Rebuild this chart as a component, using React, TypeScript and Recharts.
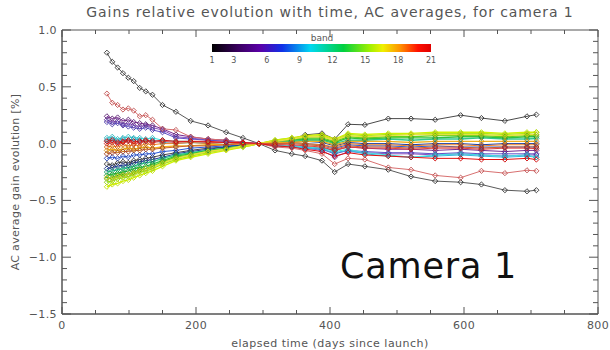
import React from 'react';
import { LineChart, Line, XAxis, YAxis, ReferenceArea } from 'recharts';

const days = [67, 75, 83, 91, 99, 107, 116, 125, 135, 150, 170, 192, 218, 245, 270, 294, 318, 343, 363, 388, 407, 427, 452, 487, 521, 557, 595, 626, 661, 694, 708];

const band1 = [0.80, 0.72, 0.67, 0.62, 0.58, 0.55, 0.49, 0.46, 0.43, 0.34, 0.28, 0.20, 0.16, 0.10, 0.05, 0.0, -0.06, -0.09, -0.11, -0.15, -0.25, -0.18, -0.20, -0.23, -0.29, -0.33, -0.34, -0.36, -0.41, -0.42, -0.41];
const band2 = [-0.18, -0.19, -0.17, -0.16, -0.17, -0.15, -0.14, -0.13, -0.12, -0.10, -0.08, -0.06, -0.04, -0.03, -0.01, 0.0, 0.02, 0.04, 0.077, 0.09, 0.04, 0.17, 0.165, 0.22, 0.22, 0.21, 0.25, 0.225, 0.20, 0.24, 0.255];
const band3 = [0.24, 0.22, 0.23, 0.20, 0.21, 0.19, 0.18, 0.17, 0.16, 0.13, 0.08, 0.06, 0.04, 0.03, 0.01, 0.0, -0.01, -0.02, -0.03, -0.04, -0.06, -0.03, -0.04, -0.05, -0.05, -0.06, -0.05, -0.06, -0.07, -0.06, -0.06];
const band4 = [0.21, 0.19, 0.20, 0.17, 0.18, 0.16, 0.15, 0.16, 0.14, 0.12, 0.06, 0.05, 0.03, 0.02, 0.01, 0.0, -0.02, -0.03, -0.04, -0.06, -0.12, -0.07, -0.08, -0.09, -0.09, -0.10, -0.09, -0.10, -0.11, -0.10, -0.10];
const band5 = [0.19, 0.17, 0.18, 0.16, 0.15, 0.14, 0.13, 0.14, 0.12, 0.10, 0.05, 0.04, 0.03, 0.02, 0.01, 0.0, -0.01, -0.02, -0.03, -0.05, -0.09, -0.06, -0.07, -0.08, -0.08, -0.09, -0.08, -0.09, -0.09, -0.09, -0.09];
const band6 = [-0.13, -0.12, -0.13, -0.11, -0.12, -0.10, -0.10, -0.09, -0.09, -0.07, -0.06, -0.04, -0.03, -0.02, -0.01, 0.0, 0.0, 0.01, 0.0, -0.01, -0.04, -0.01, -0.02, -0.02, -0.03, -0.02, -0.03, -0.03, -0.03, -0.03, -0.03];
const band7 = [-0.22, -0.21, -0.20, -0.19, -0.19, -0.17, -0.16, -0.15, -0.14, -0.12, -0.09, -0.07, -0.05, -0.03, -0.01, 0.0, 0.01, 0.02, 0.02, 0.01, -0.02, 0.01, 0.0, 0.0, -0.01, 0.0, 0.0, -0.01, 0.0, 0.0, 0.0];
const band8 = [0.03, 0.04, 0.02, 0.04, 0.03, 0.04, 0.03, 0.02, 0.03, 0.01, 0.0, 0.01, 0.0, 0.01, 0.0, 0.0, -0.02, -0.03, -0.04, -0.05, -0.08, -0.06, -0.09, -0.11, -0.12, -0.11, -0.10, -0.11, -0.12, -0.11, -0.12];
const band9 = [0.05, 0.06, 0.04, 0.05, 0.06, 0.05, 0.05, 0.04, 0.05, 0.03, 0.02, 0.02, 0.01, 0.01, 0.0, 0.0, -0.01, -0.02, -0.03, -0.04, -0.07, -0.05, -0.08, -0.10, -0.12, -0.10, -0.09, -0.10, -0.11, -0.10, -0.12];
const band10 = [-0.25, -0.24, -0.23, -0.22, -0.21, -0.20, -0.18, -0.17, -0.16, -0.13, -0.10, -0.08, -0.06, -0.04, -0.02, 0.0, 0.01, 0.02, 0.03, 0.03, 0.0, 0.03, 0.03, 0.04, 0.03, 0.04, 0.04, 0.05, 0.04, 0.04, 0.045];
const band11 = [-0.28, -0.27, -0.26, -0.25, -0.24, -0.22, -0.21, -0.20, -0.18, -0.15, -0.11, -0.09, -0.06, -0.04, -0.02, 0.0, 0.02, 0.03, 0.04, 0.04, 0.01, 0.05, 0.04, 0.05, 0.05, 0.05, 0.06, 0.06, 0.05, 0.06, 0.06];
const band12 = [-0.31, -0.30, -0.28, -0.27, -0.27, -0.25, -0.23, -0.22, -0.20, -0.16, -0.12, -0.10, -0.07, -0.05, -0.02, 0.0, 0.02, 0.04, 0.05, 0.05, 0.02, 0.06, 0.05, 0.06, 0.06, 0.07, 0.07, 0.07, 0.06, 0.07, 0.075];
const band13 = [-0.34, -0.33, -0.31, -0.30, -0.29, -0.27, -0.25, -0.24, -0.22, -0.18, -0.14, -0.11, -0.08, -0.05, -0.03, 0.0, 0.03, 0.05, 0.06, 0.07, 0.03, 0.08, 0.07, 0.08, 0.08, 0.09, 0.09, 0.09, 0.08, 0.09, 0.10];
const band14 = [-0.38, -0.36, -0.35, -0.33, -0.32, -0.30, -0.28, -0.26, -0.24, -0.20, -0.15, -0.12, -0.09, -0.06, -0.03, 0.0, 0.03, 0.05, 0.07, 0.08, 0.04, 0.09, 0.08, 0.09, 0.09, 0.10, 0.10, 0.10, 0.09, 0.10, 0.10];
const band15 = [-0.30, -0.31, -0.29, -0.28, -0.27, -0.26, -0.24, -0.22, -0.21, -0.17, -0.13, -0.10, -0.07, -0.05, -0.02, 0.0, 0.02, 0.04, 0.06, 0.06, 0.03, 0.07, 0.06, 0.07, 0.08, 0.08, 0.08, 0.08, 0.07, 0.08, 0.08];
const band16 = [-0.06, -0.05, -0.06, -0.05, -0.04, -0.05, -0.04, -0.03, -0.04, -0.03, -0.02, -0.02, -0.01, -0.01, 0.0, 0.0, 0.01, 0.01, 0.02, 0.02, -0.01, 0.02, 0.02, 0.02, 0.01, 0.02, 0.02, 0.02, 0.02, 0.02, 0.02];
const band17 = [-0.03, -0.02, -0.03, -0.01, -0.02, -0.01, -0.02, 0.0, -0.01, 0.0, 0.0, 0.01, 0.0, 0.01, 0.0, 0.0, 0.0, 0.01, 0.0, -0.01, -0.03, 0.0, -0.01, -0.01, -0.02, -0.01, -0.01, -0.02, -0.01, -0.01, -0.01];
const band18 = [-0.09, -0.08, -0.08, -0.07, -0.07, -0.06, -0.06, -0.05, -0.05, -0.04, -0.03, -0.02, -0.02, -0.01, 0.0, 0.0, 0.0, 0.0, -0.01, -0.02, -0.05, -0.02, -0.03, -0.03, -0.04, -0.03, -0.03, -0.04, -0.03, -0.03, -0.03];
const band19 = [0.0, 0.01, 0.0, 0.01, 0.02, 0.0, 0.01, 0.02, 0.01, 0.02, 0.01, 0.02, 0.01, 0.01, 0.0, 0.0, -0.01, -0.01, -0.02, -0.03, -0.06, -0.03, -0.04, -0.04, -0.05, -0.04, -0.04, -0.05, -0.04, -0.04, -0.045];
const band20 = [0.44, 0.36, 0.34, 0.30, 0.31, 0.29, 0.24, 0.25, 0.21, 0.13, 0.12, 0.06, 0.04, 0.03, 0.01, 0.0, -0.03, -0.04, -0.06, -0.09, -0.18, -0.13, -0.14, -0.21, -0.23, -0.28, -0.30, -0.24, -0.26, -0.235, -0.24];
const band21 = [0.02, 0.03, 0.01, 0.02, 0.03, 0.02, 0.02, 0.03, 0.02, 0.03, 0.02, 0.02, 0.02, 0.01, 0.01, 0.0, -0.02, -0.03, -0.05, -0.07, -0.11, -0.08, -0.10, -0.11, -0.12, -0.13, -0.13, -0.14, -0.14, -0.13, -0.14];

const bands = [band1, band2, band3, band4, band5, band6, band7, band8, band9, band10, band11, band12, band13, band14, band15, band16, band17, band18, band19, band20, band21];
const bandColors = ['#5a5a5a', '#4a4a4a', '#7a2a90', '#8a50c0', '#6050c8', '#2a5ad8', '#1f3f9f', '#30b8e0', '#40e0e0', '#30c890', '#30c040', '#60d020', '#a0e820', '#d0f000', '#e8e040', '#f0b020', '#f08020', '#c86030', '#e04040', '#d87070', '#e01010'];
const markerColors = ['#333333', '#333333', '#5a2070', '#6a3a9a', '#4a3aa8', '#2040b0', '#182f80', '#2090b0', '#30b8c0', '#20a070', '#209a30', '#50b010', '#90d010', '#c0e000', '#d0c020', '#d09010', '#d06010', '#a04020', '#c02020', '#c05050', '#d00000'];

const xTicks = [0, 50, 100, 150, 200, 250, 300, 350, 400, 450, 500, 550, 600, 650, 700, 750, 800];
const xTickLabels = [0, 200, 400, 600, 800];
const yTicks = [-1.5, -1.4, -1.3, -1.2, -1.1, -1.0, -0.9, -0.8, -0.7, -0.6, -0.5, -0.4, -0.3, -0.2, -0.1, 0, 0.1, 0.2, 0.3, 0.4, 0.5, 0.6, 0.7, 0.8, 0.9, 1.0];
const yTickLabels = [-1.5, -1.0, -0.5, 0, 0.5, 1.0];
const colorbarLabels = [1, 3, 6, 9, 12, 15, 18, 21];

const data = days.map((d, i) => {
  const row: any = { day: d };
  bands.forEach((b, k) => { row['b' + (k + 1)] = b[i]; });
  return row;
});

const W = 610, H = 350;
const M = { top: 30, right: 12, bottom: 6, left: 12 };
const Y_W = 50, X_H = 30;
const PLOT_R = W - M.right;
const PLOT_T = M.top;
const AXC = '#555';
const FONT = 'DejaVu Sans, sans-serif';

const XTick = (props: any) => {
  const { x, y, payload } = props;
  const v = payload.value;
  const major = xTickLabels.includes(v);
  const len = major ? 7 : 4;
  return (
    <g>
      <line x1={x} y1={y} x2={x} y2={y - len} stroke={AXC} strokeWidth={1} />
      <line x1={x} y1={PLOT_T} x2={x} y2={PLOT_T + len} stroke={AXC} strokeWidth={1} />
      {major && (
        <text x={x} y={y + 15} textAnchor="middle" fontSize={11} fill={AXC} fontFamily={FONT} letterSpacing={0.4}>{v}</text>
      )}
    </g>
  );
};

const YTick = (props: any) => {
  const { x, y, payload } = props;
  const v = payload.value;
  const major = yTickLabels.some((t) => Math.abs(t - v) < 1e-6);
  const len = major ? 9 : 5;
  return (
    <g>
      <line x1={x} y1={y} x2={x + len} y2={y} stroke={AXC} strokeWidth={1} />
      <line x1={PLOT_R} y1={y} x2={PLOT_R - len} y2={y} stroke={AXC} strokeWidth={1} />
      {major && (
        <text x={x - 5} y={y + 4} textAnchor="end" fontSize={11} fill={AXC} fontFamily={FONT} letterSpacing={0.4}>{v.toFixed(1).replace('-', '\u2212')}</text>
      )}
    </g>
  );
};

const makeDot = (color: string) => (props: any) => {
  const { cx, cy, index } = props;
  if (cx == null || cy == null) return <g key={index} />;
  const s = 2.6;
  return (
    <path key={index} d={`M${cx},${cy - s}L${cx + s},${cy}L${cx},${cy + s}L${cx - s},${cy}Z`} fill="none" stroke={color} strokeWidth={0.9} />
  );
};

const CB_X0 = 212, CB_X1 = 431, CB_Y = 44, CB_H = 8;

export default function App() {
  return (
    <div style={{ position: 'absolute', left: 0, top: 0, width: W, height: H, background: '#fff' }}>
      <LineChart width={W} height={H} data={data} margin={M}>
        <XAxis
          type="number"
          dataKey="day"
          domain={[0, 800]}
          ticks={xTicks}
          interval={0}
          tickSize={0}
          tickMargin={0}
          tick={<XTick />}
          height={X_H}
          stroke={AXC}
          allowDataOverflow
        />
        <YAxis
          type="number"
          domain={[-1.5, 1.0]}
          ticks={yTicks}
          interval={0}
          tickSize={0}
          tickMargin={0}
          tick={<YTick />}
          width={Y_W}
          stroke={AXC}
          allowDataOverflow
        />
        <ReferenceArea x1={0} x2={800} y1={-1.5} y2={1.0} fill="none" stroke={AXC} strokeWidth={1} ifOverflow="visible" />
        {bands.map((_, k) => (
          <Line
            key={k}
            type="linear"
            dataKey={'b' + (k + 1)}
            stroke={bandColors[k]}
            strokeWidth={k >= 9 && k <= 15 ? 1.4 : 1}
            dot={makeDot(markerColors[k])}
            isAnimationActive={false}
          />
        ))}
      </LineChart>
      <svg width={W} height={H} style={{ position: 'absolute', left: 0, top: 0, pointerEvents: 'none' }}>
        <defs>
          <linearGradient id="rainbow" x1="0" x2="1" y1="0" y2="0">
            <stop offset="0" stopColor="#000000" />
            <stop offset="0.12" stopColor="#3a0060" />
            <stop offset="0.22" stopColor="#5a00a8" />
            <stop offset="0.32" stopColor="#1030e8" />
            <stop offset="0.45" stopColor="#00d8f0" />
            <stop offset="0.6" stopColor="#00d040" />
            <stop offset="0.72" stopColor="#a0f000" />
            <stop offset="0.78" stopColor="#f0f000" />
            <stop offset="0.86" stopColor="#ff9000" />
            <stop offset="0.94" stopColor="#ff1000" />
            <stop offset="1" stopColor="#e00000" />
          </linearGradient>
        </defs>
        <text x={330} y={17} textAnchor="middle" fontSize={14} fill={AXC} fontFamily={FONT} letterSpacing={0.9}>Gains relative evolution with time, AC averages, for camera 1</text>
        <text x={322} y={41} textAnchor="middle" fontSize={9} fill={AXC} fontFamily={FONT}>band</text>
        <rect x={CB_X0} y={CB_Y} width={CB_X1 - CB_X0} height={CB_H} fill="url(#rainbow)" />
        {colorbarLabels.map((b) => (
          <text key={b} x={CB_X0 + ((b - 1) / 20) * (CB_X1 - CB_X0)} y={63} textAnchor="middle" fontSize={8} fill={AXC} fontFamily={FONT}>{b}</text>
        ))}
        <text x={330} y={347} textAnchor="middle" fontSize={11} fill={AXC} fontFamily={FONT} letterSpacing={0.5}>elapsed time (days since launch)</text>
        <text x={19} y={182} textAnchor="middle" fontSize={11} fill={AXC} fontFamily={FONT} letterSpacing={0.3} transform="rotate(-90 19 182)">AC average gain evolution [%]</text>
        <text x={340} y={278} fontSize={35} fill="#111" fontFamily={FONT} letterSpacing={0.8}>Camera 1</text>
      </svg>
    </div>
  );
}
